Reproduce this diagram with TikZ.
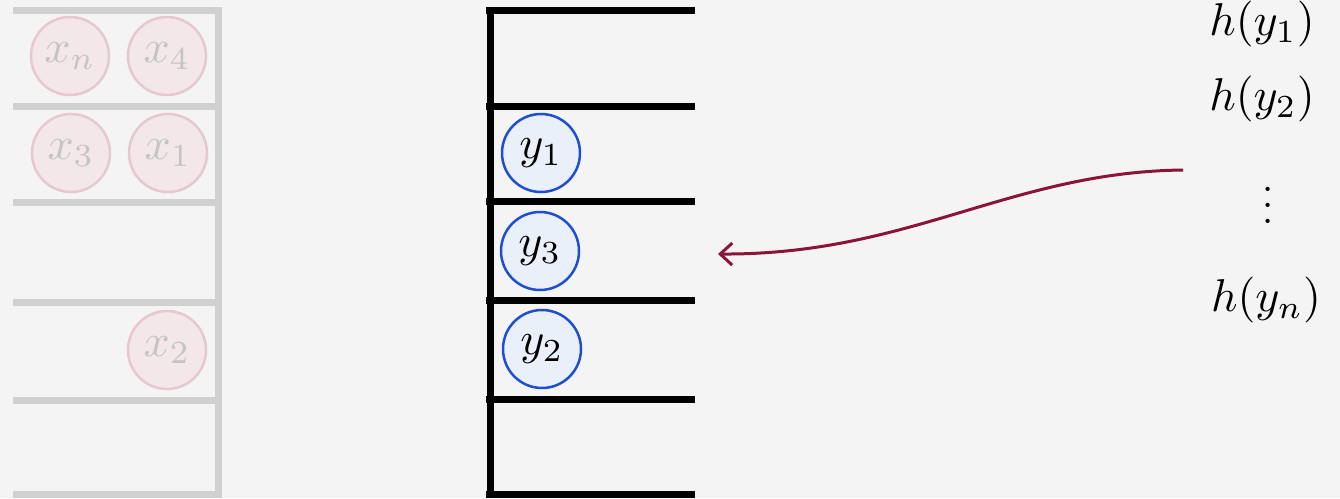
\documentclass[tikz,border=0pt]{standalone}
\usepackage{graphicx}
\usetikzlibrary{arrows.meta}
\definecolor{bg}{HTML}{F4F4F4}
\definecolor{graybar}{HTML}{D0D0D0}
\definecolor{pinkfill}{HTML}{F3E7EA}
\definecolor{pinkline}{HTML}{E6C8CF}
\definecolor{graytext}{HTML}{C4C4C4}
\definecolor{bluefill}{HTML}{EAF0FA}
\definecolor{blueline}{HTML}{1E4FD0}
\definecolor{arrowred}{HTML}{8A1538}
\newcommand{\bigmath}[1]{\scalebox{4.6}{$#1$}}
\tikzset{
  gbar/.style={graybar, line width=7pt},
  kbar/.style={black, line width=7pt},
  xcirc/.style={circle, draw=pinkline, fill=pinkfill, line width=2.5pt, minimum size=78pt, inner sep=0pt, text=graytext},
  ycirc/.style={circle, draw=blueline, fill=bluefill, line width=2.5pt, minimum size=78pt, inner sep=0pt, text=black},
  hlab/.style={inner sep=0pt},
  curvearrow/.style={arrowred, line width=3pt, -{Straight Barb[length=12pt, width=22pt, line width=3pt]}}
}
\begin{document}
\begin{tikzpicture}[x=1pt, y=-1pt]
\useasboundingbox (0,0) rectangle (1340,498);
\fill[bg] (0,0) rectangle (1340,498);
% left gray hash table
\foreach \y in {10,106,202,302,400,494} \draw[gbar] (13,\y) -- (222,\y);
\draw[gbar] (218,10) -- (218,106);
\draw[gbar] (218,106) -- (218,202);
\draw[gbar] (218,202) -- (218,302);
\draw[gbar] (218,302) -- (218,400);
\draw[gbar] (218,400) -- (218,494);
\node[xcirc] (xn) at (70,56) {\bigmath{x_n}};
\node[xcirc] (x4) at (167,56) {\bigmath{x_4}};
\node[xcirc] (x3) at (71,153) {\bigmath{x_3}};
\node[xcirc] (x1) at (168,153) {\bigmath{x_1}};
\node[xcirc] (x2) at (167,350) {\bigmath{x_2}};
% middle black hash table
\foreach \y in {10,106,201,300,399,494} \draw[kbar] (486,\y) -- (695,\y);
\draw[kbar] (490,7) -- (490,201);
\draw[kbar] (490,201) -- (490,300);
\draw[kbar] (490,300) -- (490,399);
\draw[kbar] (490,399) -- (490,497);
\node[ycirc] (y1) at (541,153) {\bigmath{y_1}};
\node[ycirc] (y3) at (540,251) {\bigmath{y_3}};
\node[ycirc] (y2) at (542,349) {\bigmath{y_2}};
% right labels
\node[hlab] (h1) at (1262,24) {\bigmath{h(y_1)}};
\node[hlab] (h2) at (1262,99) {\bigmath{h(y_2)}};
\node[hlab] (hd) at (1268,193) {\scalebox{4}{$\vdots$}};
\node[hlab] (hn) at (1266,300) {\bigmath{h(y_n)}};
% arrow
\coordinate (as) at (1183,170);
\coordinate (ae) at (718,254);
\draw[curvearrow] (as) .. controls (1010,172) and (910,255) .. (ae);
\end{tikzpicture}
\end{document}
